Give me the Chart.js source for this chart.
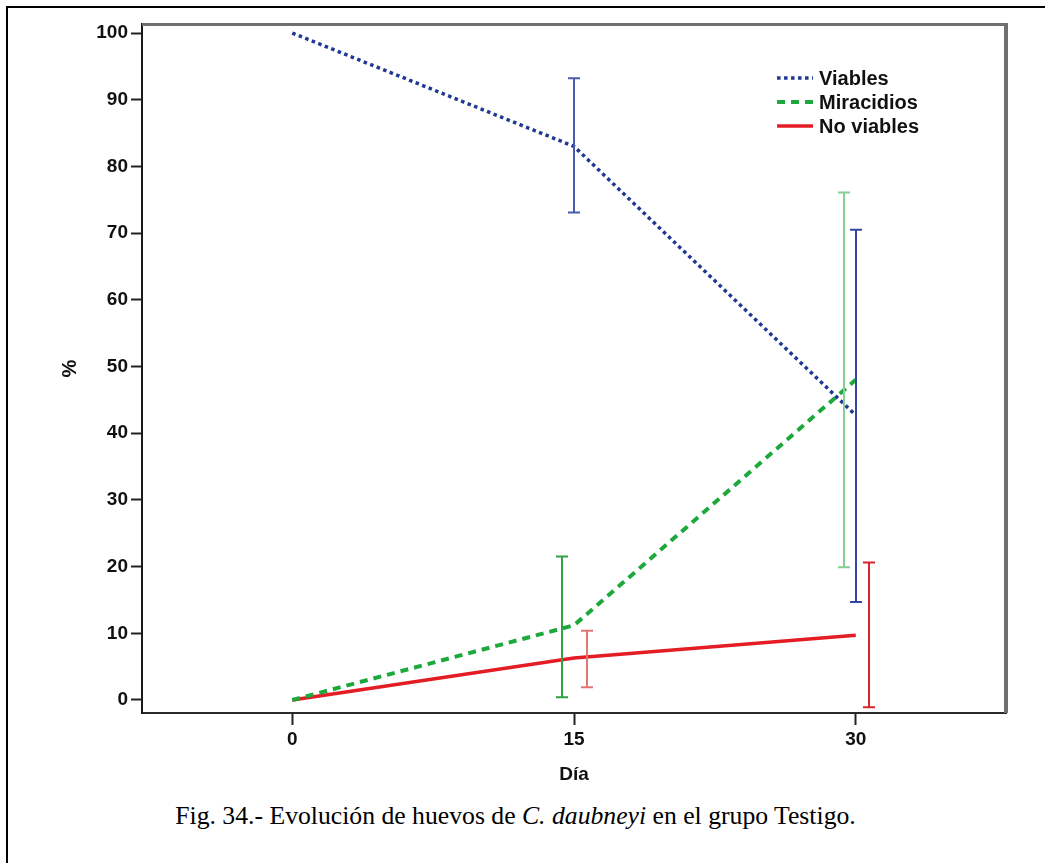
<!DOCTYPE html>
<html>
<head>
<meta charset="utf-8">
<script src="https://cdn.jsdelivr.net/npm/chart.js@4.4.1/dist/chart.umd.min.js"></script>
<style>
html, body { margin:0; padding:0; background:#fff; overflow:hidden; }
#frame { position:absolute; left:6px; top:6px; width:1100px; height:900px; border:2px solid #000; }
#chart { position:absolute; left:0; top:0; }
#caption { position:absolute; left:0; top:801px; width:1031px; text-align:center;
  font-family:"Liberation Serif","Times New Roman",serif; font-size:25.7px; line-height:30px; color:#000; }
</style>
</head>
<body>
<div id="frame"></div>
<canvas id="chart" width="1045" height="790"></canvas>
<div id="caption">Fig. 34.- Evolución de huevos de <i>C. daubneyi</i> en el grupo Testigo.</div>
<script>
// data
var dias = [0, 15, 30];
var xTicks = [0, 15, 30];
var yTicks = [0, 10, 20, 30, 40, 50, 60, 70, 80, 90, 100];

var viables = [100, 83.0, 42.7];
var viablesLow = [null, 73.1, 14.7];
var viablesHigh = [null, 93.2, 70.5];

var miracidios = [0, 11.2, 48.0];
var miracidiosLow = [null, 0.4, 19.9];
var miracidiosHigh = [null, 21.5, 76.1];

var noViables = [0, 6.3, 9.7];
var noViablesLow = [null, 1.9, -1.1];
var noViablesHigh = [null, 10.4, 20.6];

var seriesNames = ['Viables', 'Miracidios', 'No viables'];

function pts(vals) {
    return dias.map(function (d, i) { return {x: d, y: vals[i]}; });
}

var tickFont = {family: 'Liberation Sans, Arial, sans-serif', size: 19, weight: 'bold'};

// error bars, drawn through the scales
var errorBars = {
    id: 'errorBars',
    afterDatasetsDraw: function (chart) {
        var ctx = chart.ctx, xs = chart.scales.x, ys = chart.scales.y;
        chart.data.datasets.forEach(function (ds) {
            ds.low.forEach(function (lo, i) {
                var hi = ds.high[i];
                if (lo == null) return;
                var x = Math.round(xs.getPixelForValue(dias[i]) + ds.barShift);
                var y1 = ys.getPixelForValue(lo), y2 = ys.getPixelForValue(hi);
                ctx.save();
                ctx.strokeStyle = ds.barColors[i];
                ctx.lineWidth = 2;
                ctx.beginPath();
                ctx.moveTo(x, y1); ctx.lineTo(x, y2);
                ctx.moveTo(x - 6, y1); ctx.lineTo(x + 6, y1);
                ctx.moveTo(x - 6, y2); ctx.lineTo(x + 6, y2);
                ctx.stroke();
                ctx.restore();
            });
        });
    }
};

// gray top/right frame + legend inside the plot
var frameAndLegend = {
    id: 'frameAndLegend',
    afterDraw: function (chart) {
        var ctx = chart.ctx, a = chart.chartArea;
        ctx.save();
        ctx.strokeStyle = '#707070';
        ctx.lineWidth = 3;
        ctx.beginPath();
        ctx.moveTo(a.left, a.top + 0.5); ctx.lineTo(a.right, a.top + 0.5);
        ctx.stroke();
        ctx.lineWidth = 4;
        ctx.beginPath();
        ctx.moveTo(a.right, a.top - 1); ctx.lineTo(a.right, a.bottom);
        ctx.stroke();

        var lx = a.left + 0.735 * (a.right - a.left);
        var ly = a.top + 54;
        chart.data.datasets.forEach(function (ds, i) {
            var y = ly + i * 24;
            ctx.strokeStyle = ds.borderColor;
            ctx.lineWidth = ds.borderWidth;
            ctx.setLineDash(ds.borderDash || []);
            ctx.beginPath();
            ctx.moveTo(lx, y); ctx.lineTo(lx + 36, y);
            ctx.stroke();
            ctx.setLineDash([]);
            ctx.fillStyle = '#111';
            ctx.font = 'bold 20px "Liberation Sans", Arial, sans-serif';
            ctx.textBaseline = 'middle';
            ctx.textAlign = 'left';
            ctx.fillText(seriesNames[i], lx + 42, y + 1);
        });
        ctx.restore();
    }
};

new Chart(document.getElementById('chart'), {
    type: 'line',
    data: {
        datasets: [
            {
                label: seriesNames[0], data: pts(viables),
                borderColor: '#1f3893', borderWidth: 3.5, borderDash: [3.5, 3.5],
                low: viablesLow, high: viablesHigh, barShift: 0,
                barColors: [null, '#4a5cae', '#3447a3']
            },
            {
                label: seriesNames[1], data: pts(miracidios),
                borderColor: '#1da83c', borderWidth: 4, borderDash: [8, 6],
                low: miracidiosLow, high: miracidiosHigh, barShift: -12,
                barColors: [null, '#2ea340', '#86cf92']
            },
            {
                label: seriesNames[2], data: pts(noViables),
                borderColor: '#e41c24', borderWidth: 3.5,
                low: noViablesLow, high: noViablesHigh, barShift: 13,
                barColors: [null, '#e27676', '#d8252b']
            }
        ]
    },
    options: {
        responsive: false,
        animation: false,
        devicePixelRatio: 1,
        layout: {padding: {left: 0, top: 24, right: 39, bottom: 0}},
        elements: {point: {radius: 0}, line: {tension: 0}},
        plugins: {legend: {display: false}, tooltip: {enabled: false}},
        scales: {
            x: {
                type: 'linear', min: -8, max: 38,
                afterBuildTicks: function (s) { s.ticks = xTicks.map(function (v) { return {value: v}; }); },
                afterFit: function (s) { s.height = 77; },
                grid: {drawOnChartArea: false, drawTicks: true, tickLength: 12, tickWidth: 2, tickColor: '#222'},
                border: {display: true, color: '#2a2a2a', width: 2},
                ticks: {font: tickFont, color: '#111', padding: 3, maxRotation: 0},
                title: {display: true, text: 'Día', color: '#111',
                    font: {family: 'Liberation Sans, Arial, sans-serif', size: 19, weight: 'bold'},
                    padding: {top: 0, bottom: 4}}
            },
            y: {
                type: 'linear', min: -1.95, max: 101.35,
                afterBuildTicks: function (s) { s.ticks = yTicks.map(function (v) { return {value: v}; }); },
                afterFit: function (s) { s.width = 142; },
                grid: {drawOnChartArea: false, drawTicks: true, tickLength: 11, tickWidth: 2, tickColor: '#222'},
                border: {display: true, color: '#1a1a1a', width: 2},
                ticks: {font: tickFont, color: '#111', padding: 3},
                title: {display: true, text: '%', color: '#111',
                    font: {family: 'Liberation Sans, Arial, sans-serif', size: 20, weight: 'bold'},
                    padding: {top: 58, bottom: 0}}
            }
        }
    },
    plugins: [errorBars, frameAndLegend]
});
</script>
</body>
</html>
